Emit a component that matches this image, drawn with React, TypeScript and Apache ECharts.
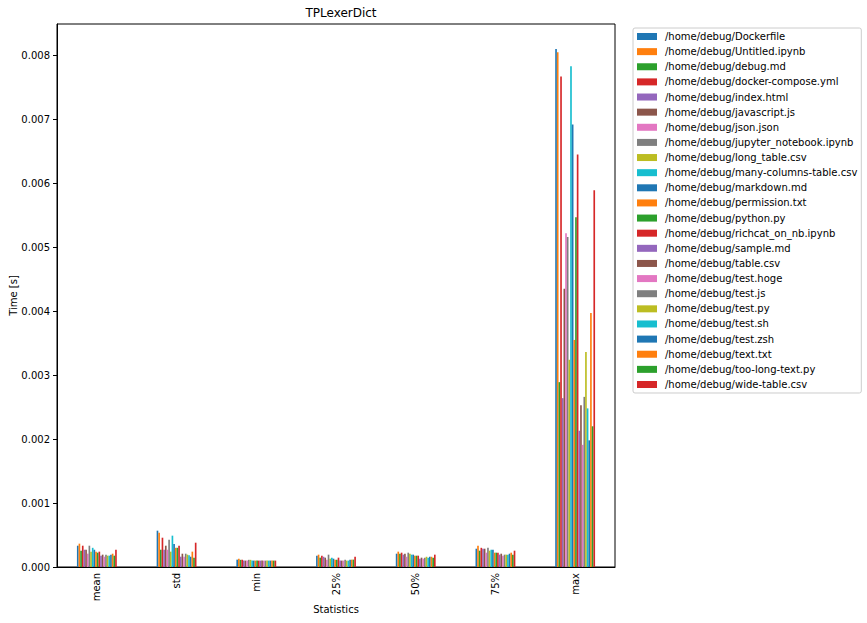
import React, { useEffect, useRef } from "react";
import * as echarts from "echarts";

const categories = ["mean", "std", "min", "25%", "50%", "75%", "max"];

const files = [
  "/home/debug/Dockerfile",
  "/home/debug/Untitled.ipynb",
  "/home/debug/debug.md",
  "/home/debug/docker-compose.yml",
  "/home/debug/index.html",
  "/home/debug/javascript.js",
  "/home/debug/json.json",
  "/home/debug/jupyter_notebook.ipynb",
  "/home/debug/long_table.csv",
  "/home/debug/many-columns-table.csv",
  "/home/debug/markdown.md",
  "/home/debug/permission.txt",
  "/home/debug/python.py",
  "/home/debug/richcat_on_nb.ipynb",
  "/home/debug/sample.md",
  "/home/debug/table.csv",
  "/home/debug/test.hoge",
  "/home/debug/test.js",
  "/home/debug/test.py",
  "/home/debug/test.sh",
  "/home/debug/test.zsh",
  "/home/debug/text.txt",
  "/home/debug/too-long-text.py",
  "/home/debug/wide-table.csv",
];

const meanVals = [
  0.000333, 0.000365, 0.000255, 0.000333, 0.00027, 0.00027, 0.000208, 0.000333,
  0.00024, 0.0003, 0.00027, 0.00024, 0.000224, 0.00024, 0.000177, 0.000193,
  0.000161, 0.000193, 0.000177, 0.000177, 0.000193, 0.000208, 0.000177, 0.00027,
];
const stdVals = [
  0.000568, 0.000536, 0.00027, 0.000458, 0.00027, 0.000333, 0.00027, 0.000427,
  0.00024, 0.00049, 0.00036, 0.0003, 0.0003, 0.000333, 0.000161, 0.000208,
  0.000161, 0.000208, 0.000193, 0.000185, 0.000161, 0.00024, 0.000146, 0.00038,
];
const minVals = [
  0.000115, 0.00013, 0.000112, 0.000112, 0.0001, 0.0001, 0.0001, 0.000112,
  0.000112, 0.0001, 0.0001, 0.0001, 0.0001, 0.0001, 0.0001, 0.0001,
  0.0001, 0.0001, 0.0001, 0.0001, 0.0001, 0.0001, 0.0001, 0.0001,
];
const p25Vals = [
  0.000177, 0.000193, 0.000146, 0.000177, 0.00016, 0.000146, 0.000115, 0.000193,
  0.00013, 0.000146, 0.00013, 0.000115, 0.000115, 0.000146, 0.0001, 0.0001,
  0.0001, 0.000115, 0.0001, 0.0001, 0.000115, 0.000115, 0.000115, 0.00016,
];
const p50Vals = [
  0.000208, 0.00024, 0.000208, 0.000224, 0.000193, 0.000208, 0.00016, 0.000224,
  0.000208, 0.000193, 0.000193, 0.000177, 0.000177, 0.000177, 0.00013, 0.000146,
  0.00013, 0.000146, 0.00016, 0.000146, 0.00016, 0.00016, 0.000146, 0.000193,
];
const p75Vals = [
  0.000286, 0.000333, 0.000255, 0.0003, 0.000286, 0.000286, 0.000224, 0.0003,
  0.000255, 0.00027, 0.00027, 0.000224, 0.000224, 0.000224, 0.000193, 0.000208,
  0.000177, 0.000193, 0.000193, 0.000193, 0.000208, 0.000224, 0.000193, 0.000255,
];
const maxVals = [
  0.0081, 0.00805, 0.00289, 0.00767, 0.00264, 0.00435, 0.00522, 0.00516,
  0.00324, 0.00783, 0.00692, 0.00355, 0.00547, 0.00645, 0.00213, 0.00253,
  0.00191, 0.00266, 0.00336, 0.00248, 0.00198, 0.00397, 0.0022, 0.00589,
];

const yTicks = [0, 0.001, 0.002, 0.003, 0.004, 0.005, 0.006, 0.007, 0.008];

const palette = [
  "#1f77b4", "#ff7f0e", "#2ca02c", "#d62728", "#9467bd",
  "#8c564b", "#e377c2", "#7f7f7f", "#bcbd22", "#17becf",
];

const FONT = "DejaVu Sans";

export default function App() {
  const ref = useRef<HTMLDivElement>(null);

  useEffect(() => {
    if (!ref.current) return;
    const chart = echarts.init(ref.current, null, { renderer: "svg" });
    const stats = [meanVals, stdVals, minVals, p25Vals, p50Vals, p75Vals, maxVals];
    const series = files.map((name, i) => ({
      name,
      type: "bar" as const,
      data: stats.map((arr) => arr[i]),
      barGap: "0%",
      barCategoryGap: "50%",
      itemStyle: { color: palette[i % palette.length] },
    }));
    chart.setOption({
      animation: false,
      textStyle: { fontFamily: FONT },
      title: {
        text: "TPLexerDict",
        left: 336,
        textAlign: "center",
        top: 2,
        textStyle: { fontSize: 12, fontWeight: "normal", color: "#000", fontFamily: FONT },
      },
      grid: {
        left: 57,
        right: 252,
        top: 24,
        bottom: 56,
        outerBoundsMode: "none",
        containLabel: false,
        show: true,
        borderColor: "#000",
        borderWidth: 1,
        backgroundColor: "transparent",
      },
      legend: {
        orient: "vertical",
        left: 633,
        top: 28,
        icon: "rect",
        itemWidth: 20,
        itemHeight: 7,
        itemGap: 4.13,
        padding: [3, 4, 3, 4],
        borderColor: "#cccccc",
        borderWidth: 1,
        borderRadius: 2,
        textStyle: {
          fontSize: 10,
          color: "#000",
          fontFamily: FONT,
          lineHeight: 11,
          padding: [0, 0, 0, 3],
        },
        data: files,
      },
      xAxis: {
        type: "category",
        data: categories,
        name: "Statistics",
        nameLocation: "middle",
        nameGap: 37,
        nameMoveOverlap: false,
        nameTextStyle: { fontSize: 10, color: "#000", fontFamily: FONT },
        axisLine: { lineStyle: { color: "#000", width: 1 } },
        axisTick: { alignWithLabel: true, length: 4, lineStyle: { color: "#000" } },
        axisLabel: { rotate: 90, fontSize: 10, color: "#000", margin: 6, fontFamily: FONT },
        splitLine: { show: false },
      },
      yAxis: {
        type: "value",
        min: 0,
        max: 0.00849,
        interval: 0.001,
        name: "Time [s]",
        nameLocation: "middle",
        nameGap: 39,
        nameMoveOverlap: false,
        nameRotate: 90,
        nameTextStyle: { fontSize: 10, color: "#000", fontFamily: FONT },
        axisLine: { show: true, lineStyle: { color: "#000", width: 1 } },
        axisTick: {
          show: true,
          length: 4,
          lineStyle: { color: "#000" },
          customValues: yTicks,
        },
        axisLabel: {
          fontSize: 10,
          color: "#000",
          margin: 7,
          fontFamily: FONT,
          customValues: yTicks,
          formatter: (v: number) => v.toFixed(3),
        },
        splitLine: { show: false },
      },
      series,
    });
    return () => chart.dispose();
  }, []);

  return (
    <div
      ref={ref}
      style={{ position: "fixed", left: 0, top: 0, width: 867, height: 623, background: "#fff" }}
    />
  );
}
